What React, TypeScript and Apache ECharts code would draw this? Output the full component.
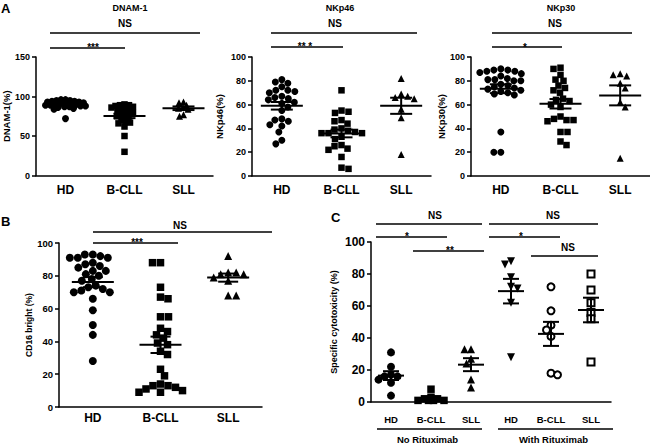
import React, { useEffect, useRef } from "react";
import * as echarts from "echarts";

// ---------- data ----------
const catsA = ["HD", "B-CLL", "SLL"];
const catsC = ["HD", "B-CLL", "SLL", "HD", "B-CLL", "SLL"];

const dnamHD = [96, 96, 95, 95, 94, 94, 93, 93, 92, 92, 91, 91, 91, 90, 90, 89, 89, 88, 88, 87, 87, 86, 85, 84, 72];
const dnamBCLL = [90, 89, 89, 88, 87, 86, 85, 84, 83, 82, 80, 79, 78, 77, 75, 74, 72, 70, 68, 67, 66, 62, 50, 30];
const dnamSLL = [93, 92, 89, 86, 85, 84, 77, 75];

const nkp46HD = [81, 79, 78, 75, 72, 72, 71, 70, 67, 66, 65, 64, 62, 61, 58, 55, 48, 47, 46, 43, 42, 37, 30, 27];
const nkp46BCLL = [72, 55, 54, 53, 47, 46, 44, 40, 39, 38, 37, 36, 36, 36, 33, 31, 26, 25, 23, 22, 16, 7, 6];
const nkp46SLL = [82, 69, 67, 66, 65, 56, 49, 18];

const nkp30HD = [90, 89, 89, 88, 88, 87, 86, 84, 82, 81, 81, 80, 80, 77, 76, 75, 74, 73, 72, 71, 70, 69, 68, 37, 20, 20];
const nkp30BCLL = [91, 90, 85, 81, 80, 76, 74, 72, 70, 65, 64, 63, 60, 58, 50, 48, 47, 47, 46, 37, 37, 29, 26];
const nkp30SLL = [86, 85, 84, 78, 74, 62, 58, 15];

const cd16HD = [93, 93, 92, 91, 91, 91, 88, 87, 86, 85, 83, 83, 81, 80, 78, 77, 74, 73, 72, 71, 70, 70, 66, 59, 50, 44, 28];
const cd16BCLL = [88, 88, 73, 67, 66, 55, 55, 48, 46, 44, 42, 39, 38, 34, 32, 23, 19, 14, 13, 13, 12, 11, 10, 9, 9];
const cd16SLL = [92, 82, 82, 81, 81, 79, 77, 68, 68];

const cytoHDNo = [31, 22, 17, 16, 16, 14, 12, 4];
const cytoBCLLNo = [8, 3, 2, 2, 1, 1, 1, 1];
const cytoSLLNo = [33, 33, 27, 24, 14, 9];
const cytoHDWith = [88, 86, 78, 72, 71, 62, 28];
const cytoBCLLWith = [72, 57, 48, 45, 41, 18, 17];
const cytoSLLWith = [80, 70, 62, 56, 52, 25];

// ---------- layout / style ----------
const FONT = "'Liberation Sans', Arial, Helvetica, sans-serif";

type Panel = {
  left: number; top: number; width: number; height: number;
  yMax: number; yInterval: number; yName: string; nameGap: number; nameSize: number;
  tickSize: number; labelSize: number; labelMargin: number;
  cats: string[]; groups: number[][]; symbols: string[]; rotate: number[]; open: boolean[];
  size: number; overlap: number; maxHalf: number; meanHalf: number; capHalf: number;
};

const panels: Panel[] = [
  {
    left: 31, top: 57, width: 182, height: 118.5, yMax: 150, yInterval: 50, yName: "DNAM-1(%)", nameGap: 25, nameSize: 9.5,
    tickSize: 9, labelSize: 12, labelMargin: 8, cats: catsA, groups: [dnamHD, dnamBCLL, dnamSLL],
    symbols: ["circle", "rect", "triangle"], rotate: [0, 0, 0], open: [false, false, false],
    size: 7, overlap: 0.6, maxHalf: 20, meanHalf: 21, capHalf: 11,
  },
  {
    left: 252, top: 57, width: 179, height: 119, yMax: 100, yInterval: 20, yName: "NKp46(%)", nameGap: 28, nameSize: 9.5,
    tickSize: 9, labelSize: 12, labelMargin: 8, cats: catsA, groups: [nkp46HD, nkp46BCLL, nkp46SLL],
    symbols: ["circle", "rect", "triangle"], rotate: [0, 0, 0], open: [false, false, false],
    size: 7, overlap: 0.95, maxHalf: 22, meanHalf: 21, capHalf: 11,
  },
  {
    left: 471, top: 57, width: 179, height: 119, yMax: 100, yInterval: 20, yName: "NKp30(%)", nameGap: 23, nameSize: 9.5,
    tickSize: 9, labelSize: 12, labelMargin: 8, cats: catsA, groups: [nkp30HD, nkp30BCLL, nkp30SLL],
    symbols: ["circle", "rect", "triangle"], rotate: [0, 0, 0], open: [false, false, false],
    size: 7, overlap: 0.95, maxHalf: 22, meanHalf: 21, capHalf: 11,
  },
  {
    left: 59, top: 243, width: 203, height: 164, yMax: 100, yInterval: 20, yName: "CD16 bright (%)", nameGap: 26, nameSize: 8.5,
    tickSize: 9.5, labelSize: 12, labelMargin: 5, cats: catsA, groups: [cd16HD, cd16BCLL, cd16SLL],
    symbols: ["circle", "rect", "triangle"], rotate: [0, 0, 0], open: [false, false, false],
    size: 8, overlap: 0.95, maxHalf: 24, meanHalf: 21, capHalf: 10,
  },
  {
    left: 371, top: 242, width: 240, height: 160, yMax: 100, yInterval: 20, yName: "Specific cytotoxicity (%)", nameGap: 33, nameSize: 9,
    tickSize: 12, labelSize: 9.5, labelMargin: 12, cats: catsC,
    groups: [cytoHDNo, cytoBCLLNo, cytoSLLNo, cytoHDWith, cytoBCLLWith, cytoSLLWith],
    symbols: ["circle", "rect", "triangle", "triangle", "circle", "rect"], rotate: [0, 0, 0, 180, 0, 0],
    open: [false, false, false, false, true, true],
    size: 8, overlap: 0.8, maxHalf: 13, meanHalf: 13, capHalf: 8,
  },
];

// significance bars: [x1, x2, y, label, textX, textY]
const sigBars: [number, number, number, string, number, number][] = [
  [50, 200, 33, "NS", 125, 23],
  [50, 125, 48, "***", 93, 44],
  [271, 417, 33, "NS", 335, 23],
  [271, 343, 47, "** *", 305, 43],
  [492, 632, 33, "NS", 555, 23],
  [492, 562, 47, "*", 525, 44],
  [93, 272, 232, "NS", 180, 225],
  [93, 178, 243, "***", 137, 239],
  [376, 482, 224, "NS", 435, 215],
  [489, 598, 224, "NS", 553, 215],
  [376, 447, 237, "*", 407, 233],
  [413, 484, 251, "**", 450, 247],
  [489, 560, 237, "*", 521, 233],
  [531, 598, 256, "NS", 568, 247],
];

const titles: [string, number, number][] = [
  ["DNAM-1", 130, 8],
  ["NKp46", 340, 8],
  ["NKp30", 561, 8],
];
const letters: [string, number, number][] = [
  ["A", 1, 8],
  ["B", 1, 221],
  ["C", 331, 217],
];
const groupLabels: [string, number, number, number][] = [
  ["No Rituximab", 377, 482, 429],
  ["With Rituximab", 498, 613, 429],
];

// ---------- helpers ----------
function stats(v: number[]) {
  const n = v.length;
  const m = v.reduce((a, b) => a + b, 0) / n;
  const sd = Math.sqrt(v.reduce((a, b) => a + (b - m) * (b - m), 0) / (n - 1));
  const sem = sd / Math.sqrt(n);
  return [m, m - sem, m + sem];
}

function swarm(values: number[], size: number, pxPerUnit: number, overlap: number, maxHalf: number): number[] {
  const order = values.map((_, i) => i).sort((a, b) => values[b] - values[a]);
  const placed: { x: number; y: number }[] = [];
  const offs = new Array(values.length).fill(0);
  const d = size * overlap;
  const step = 0.5;
  order.forEach((i, cnt) => {
    const y = -values[i] * pxPerUnit;
    const cands: number[] = [0];
    for (let k = 1; k * step <= maxHalf; k++) {
      if (cnt % 2 === 0) cands.push(k * step, -k * step);
      else cands.push(-k * step, k * step);
    }
    let chosen: number | null = null;
    let best = 0, bestScore = -1;
    for (const c of cands) {
      let minD = Infinity;
      for (const p of placed) {
        const dd = Math.hypot(p.x - c, p.y - y);
        if (dd < minD) minD = dd;
      }
      if (minD >= d) { chosen = c; break; }
      if (minD > bestScore) { bestScore = minD; best = c; }
    }
    const x = chosen !== null ? chosen : best;
    placed.push({ x, y });
    offs[i] = x;
  });
  return offs;
}

function buildOption() {
  const grid: any[] = [];
  const xAxis: any[] = [];
  const yAxis: any[] = [];
  const series: any[] = [];
  const axisLineStyle = { color: "#000", width: 1.5 };

  panels.forEach((p, pi) => {
    grid.push({ left: p.left, top: p.top, width: p.width, height: p.height, containLabel: false });
    xAxis.push({
      type: "category", gridIndex: pi, data: p.cats.map((_, i) => String(i)),
      axisLine: { lineStyle: axisLineStyle },
      axisTick: { alignWithLabel: true, length: 4, lineStyle: axisLineStyle },
      axisLabel: {
        formatter: (_v: string, i: number) => p.cats[i], color: "#000", fontWeight: "bold",
        fontSize: p.labelSize, fontFamily: FONT, margin: p.labelMargin, interval: 0,
      },
      splitLine: { show: false },
    });
    yAxis.push({
      type: "value", gridIndex: pi, min: 0, max: p.yMax, interval: p.yInterval,
      axisLine: { show: true, lineStyle: axisLineStyle },
      axisTick: { show: true, length: 4, lineStyle: axisLineStyle },
      axisLabel: { color: "#000", fontWeight: "bold", fontSize: p.tickSize, fontFamily: FONT, margin: 6 },
      splitLine: { show: false },
      name: p.yName, nameLocation: "middle", nameGap: p.nameGap,
      nameTextStyle: { color: "#000", fontWeight: "bold", fontSize: p.nameSize, fontFamily: FONT },
    });
    const pxPerUnit = p.height / p.yMax;
    const statData: number[][] = [];
    p.groups.forEach((vals, gi) => {
      const offs = swarm(vals, p.size, pxPerUnit, p.overlap, p.maxHalf);
      series.push({
        type: "scatter", xAxisIndex: pi, yAxisIndex: pi,
        symbol: p.symbols[gi], symbolSize: p.open[gi] ? p.size - 1 : p.symbols[gi] === "rect" ? p.size - 0.5 : p.size,
        symbolRotate: p.rotate[gi],
        itemStyle: p.open[gi]
          ? { color: "#fff", borderColor: "#000", borderWidth: 2, opacity: 1 }
          : { color: "#000", opacity: 1 },
        data: vals.map((v, j) => ({ value: [gi, v], symbolOffset: [offs[j], 0] })),
        z: 2, silent: true,
      });
      const [m, lo, hi] = stats(vals);
      statData.push([gi, m, lo, hi]);
    });
    series.push({
      type: "custom", xAxisIndex: pi, yAxisIndex: pi, z: 5, silent: true,
      encode: { x: 0, y: 1 },
      data: statData,
      renderItem: (_params: any, api: any) => {
        const x = api.value(0);
        const pm = api.coord([x, api.value(1)]);
        const plo = api.coord([x, api.value(2)]);
        const phi = api.coord([x, api.value(3)]);
        const st = { stroke: "#000", lineWidth: 2 };
        return {
          type: "group",
          children: [
            { type: "line", shape: { x1: pm[0] - p.meanHalf, y1: pm[1], x2: pm[0] + p.meanHalf, y2: pm[1] }, style: st },
            { type: "line", shape: { x1: pm[0], y1: phi[1], x2: pm[0], y2: plo[1] }, style: st },
            { type: "line", shape: { x1: pm[0] - p.capHalf, y1: phi[1], x2: pm[0] + p.capHalf, y2: phi[1] }, style: st },
            { type: "line", shape: { x1: pm[0] - p.capHalf, y1: plo[1], x2: pm[0] + p.capHalf, y2: plo[1] }, style: st },
          ],
        };
      },
    });
  });

  const graphic: any[] = [];
  const txt = (text: string, x: number, y: number, size: number, align = "center") => ({
    type: "text", x, y, silent: true,
    style: { text, fill: "#000", fontWeight: "bold", fontSize: size, fontFamily: FONT, align, verticalAlign: "middle" },
  });
  titles.forEach(([t, x, y]) => graphic.push(txt(t, x, y, 9)));
  letters.forEach(([t, x, y]) => graphic.push(txt(t, x, y, 13, "left")));
  sigBars.forEach(([x1, x2, y, label, tx, ty]) => {
    graphic.push({ type: "line", silent: true, shape: { x1, y1: y, x2, y2: y }, style: { stroke: "#000", lineWidth: 1.5 } });
    const isStar = label.indexOf("*") >= 0;
    graphic.push(txt(label, tx, isStar ? ty + 3 : ty, 10));
  });
  groupLabels.forEach(([t, x1, x2, y]) => {
    graphic.push({ type: "line", silent: true, shape: { x1, y1: y, x2, y2: y }, style: { stroke: "#000", lineWidth: 1.5 } });
    graphic.push(txt(t, (x1 + x2) / 2 - 2, y + 10, 9.5));
  });

  return { animation: false, backgroundColor: "#fff", grid, xAxis, yAxis, series, graphic };
}

export default function App() {
  const ref = useRef<HTMLDivElement>(null);
  useEffect(() => {
    document.body.style.margin = "0";
    if (!ref.current) return;
    const chart = echarts.init(ref.current, undefined, { renderer: "svg" });
    chart.setOption(buildOption() as any);
    return () => chart.dispose();
  }, []);
  return <div ref={ref} style={{ width: 650, height: 443 }} />;
}
